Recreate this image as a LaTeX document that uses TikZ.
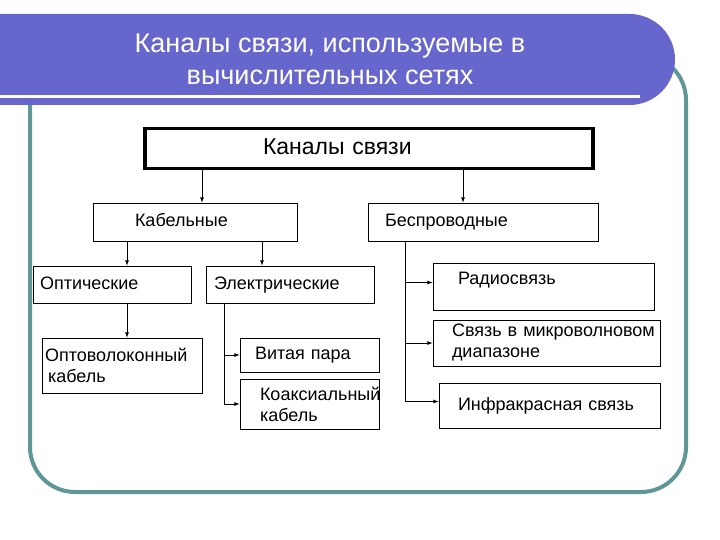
\documentclass[tikz,border=0pt]{standalone}
\usepackage{fontspec}
\setmainfont{Liberation Sans}
\usepackage{tikz}
\usetikzlibrary{arrows,positioning}
\definecolor{banner}{RGB}{102,102,204}
\definecolor{frame}{RGB}{96,150,150}
\tikzstyle{box}=[draw,rectangle,line width=0.8pt,inner sep=3pt,align=left,font=\fontsize{18}{21}\selectfont]
\tikzstyle{single}=[text height=13pt,text depth=4pt]
\tikzstyle{arr}=[-latex,line width=0.8pt]

\begin{document}
\begin{tikzpicture}[x=1pt,y=-1pt]
\useasboundingbox (0,0) rectangle (720,540);
\draw[frame,line width=4pt,rounded corners=45pt] (30,55) rectangle (686,492);
\fill[banner,rounded corners=45.5pt] (-60,14) -- (675,14) -- (675,105) -- (-60,105) -- cycle;
\draw[white,line width=2.5pt] (0,96.5) -- (640,96.5);
\node[white,align=center,font=\fontsize{27}{32}\selectfont] (title) at (330,59) {Каналы связи, используемые в\\вычислительных сетях};

\node[box,single,line width=3.5pt,minimum width=448,minimum height=40,text width=212,text height=17pt,text depth=5pt,font=\fontsize{23}{27}\selectfont] (kan) at (369,148.5) {Каналы связи};
\node[box,single,minimum width=204,minimum height=38,text width=120] (kab) at (195,222) {Кабельные};
\node[box,single,minimum width=230,minimum height=38,text width=196] (besp) at (483,222) {Беспроводные};
\node[box,single,minimum width=158,minimum height=37,text width=144] (opt) at (112,284.5) {Оптические};
\node[box,single,minimum width=168,minimum height=37,text width=152] (el) at (290,284.5) {Электрические};
\node[box,minimum width=158,minimum height=55,text width=154] (optov) at (122,365.5) {Оптоволоконный\\\hspace*{3pt}кабель};
\node[box,single,minimum width=139,minimum height=34,text width=109] (vit) at (309.5,355) {Витая пара};
\node[box,minimum width=139,minimum height=50,text width=99] (koax) at (309.5,404) {Коаксиальный\\кабель};
\node[box,single,minimum width=221,minimum height=47,text width=171,text depth=17pt] (radio) at (543.5,286.5) {Радиосвязь};
\node[box,minimum width=227,minimum height=46,text width=189] (micro) at (546.5,343) {\mbox{Связь в микроволновом}\\диапазоне};
\node[box,single,minimum width=221,minimum height=45,text width=183] (infra) at (549.5,405.5) {Инфракрасная связь};

\draw[arr] ([xshift=7]kab.north |- kan.south) -- ([xshift=7]kab.north);
\draw[arr] ([xshift=-20]besp.north |- kan.south) -- ([xshift=-20]besp.north);
\draw[arr] ([xshift=-68]kab.south) -- ([xshift=-68]kab.south |- opt.north);
\draw[arr] ([xshift=67]kab.south) -- ([xshift=67]kab.south |- el.north);
\draw[arr] ([xshift=15]opt.south) -- ([xshift=15]opt.south |- optov.north);
\draw[arr] ([xshift=-66]el.south) |- (vit.west);
\draw[arr] ([xshift=-66]el.south) |- (koax.west);
\draw[arr] ([xshift=-78]besp.south) |- ([yshift=4]radio.west);
\draw[arr] ([xshift=-78]besp.south) |- (micro.west);
\draw[arr] ([xshift=-78]besp.south) |- ([yshift=4]infra.west);
\end{tikzpicture}
\end{document}
